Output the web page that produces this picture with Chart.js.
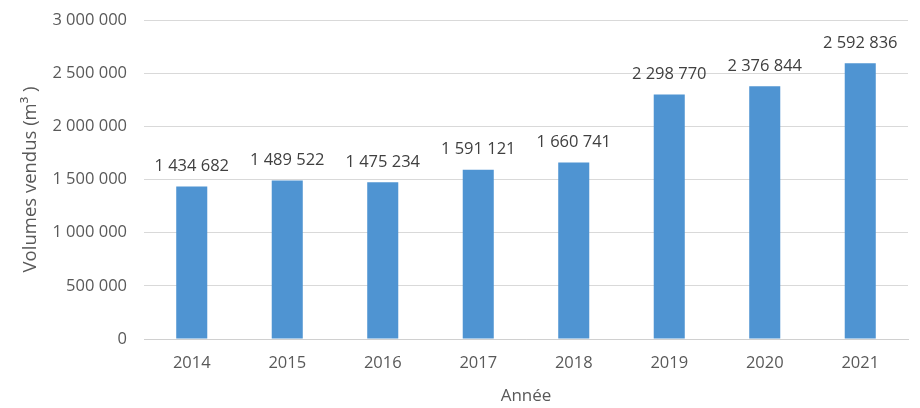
<!DOCTYPE html>
<html>
<head>
<meta charset="utf-8">
<script src="https://cdn.jsdelivr.net/npm/chart.js@4"></script>
<style>
  html, body { margin: 0; padding: 0; background: #ffffff; }
  #wrap { width: 920px; height: 408px; position: relative; }
</style>
</head>
<body>
<div id="wrap"><canvas id="c" width="920" height="408"></canvas></div>
<script>
const years = ['2014', '2015', '2016', '2017', '2018', '2019', '2020', '2021'];
const volumes = [1434682, 1489522, 1475234, 1591121, 1660741, 2298770, 2376844, 2592836];
const yTickValues = [0, 500000, 1000000, 1500000, 2000000, 2500000, 3000000];

const FONT = '"Open Sans", "DejaVu Sans", sans-serif';
const fmt = v => String(v).replace(/\B(?=(\d{3})+(?!\d))/g, ' ');

const labelPlugin = {
  id: 'barLabels',
  afterDatasetsDraw(chart) {
    const ctx = chart.ctx;
    const meta = chart.getDatasetMeta(0);
    ctx.save();
    ctx.font = '16.5px ' + FONT;
    ctx.fillStyle = '#404040';
    ctx.textAlign = 'center';
    ctx.textBaseline = 'bottom';
    meta.data.forEach((bar, i) => {
      ctx.fillText(fmt(volumes[i]), bar.x, bar.y - 12);
    });
    ctx.restore();
  }
};

new Chart(document.getElementById('c'), {
  type: 'bar',
  data: {
    labels: years,
    datasets: [{
      data: volumes,
      backgroundColor: '#4f94d2',
      borderWidth: 0,
      barPercentage: 0.65,
      categoryPercentage: 0.5
    }]
  },
  options: {
    responsive: false,
    animation: false,
    layout: { padding: { top: 20, right: 12, bottom: 0, left: 0 } },
    plugins: { legend: { display: false }, tooltip: { enabled: false } },
    scales: {
      x: {
        grid: { display: false, drawTicks: false },
        border: { display: true, color: '#d0d0d0', width: 1 },
        ticks: { color: '#595959', font: { family: FONT, size: 16.5 }, padding: 14 },
        title: { display: true, text: 'Année', color: '#595959', font: { family: FONT, size: 17 }, padding: { top: 4, bottom: 2 } },
        afterFit(scale) { scale.height = 69; }
      },
      y: {
        min: 0, max: 3000000,
        afterBuildTicks(scale) { scale.ticks = yTickValues.map(v => ({ value: v })); },
        grid: { color: '#d9d9d9', drawTicks: false, lineWidth: 1 },
        border: { display: false },
        ticks: { color: '#595959', font: { family: FONT, size: 16.5 }, padding: 17, callback: v => fmt(v) },
        title: { display: true, text: 'Volumes vendus (m³ )', color: '#595959', font: { family: FONT, size: 18.5 }, padding: { top: 20, bottom: 4 } },
        afterFit(scale) { scale.width = 144; scale.paddingTop = 0; scale.paddingBottom = 0; }
      }
    }
  },
  plugins: [labelPlugin]
});
</script>
</body>
</html>
